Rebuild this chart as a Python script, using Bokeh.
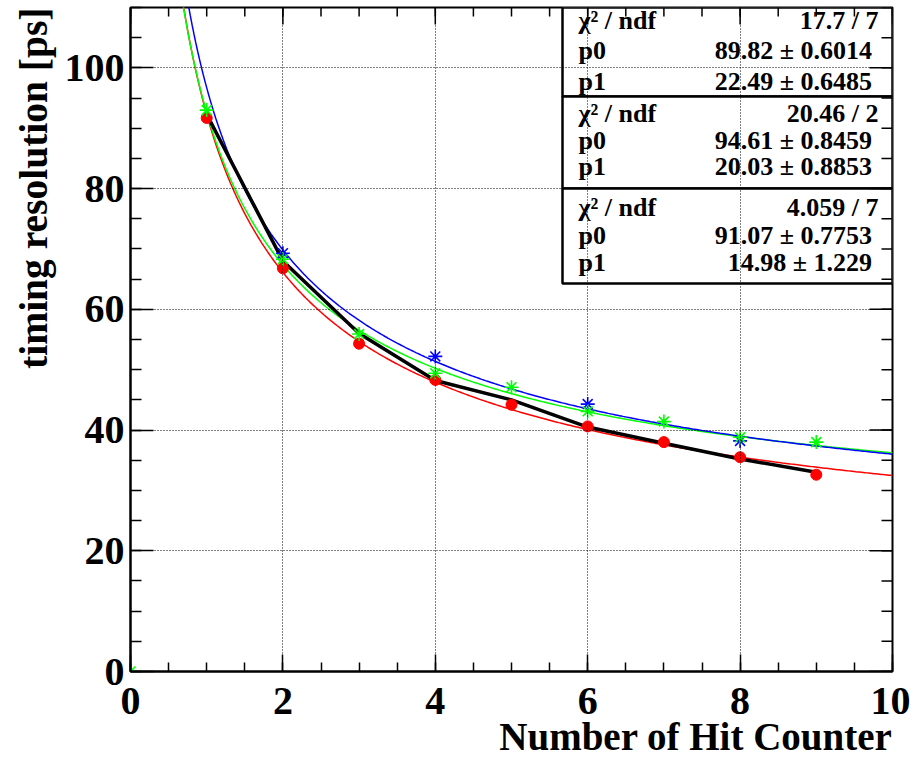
import numpy as np
from bokeh.plotting import figure
from bokeh.models import Range1d, FixedTicker, Title
from bokeh.core.properties import value
from bokeh.embed import file_html
from bokeh.resources import INLINE

# ---------------- data ----------------
hit_counts = [1, 2, 3, 4, 5, 6, 7, 8, 9]
red_res = [91.7, 66.8, 54.3, 48.3, 44.2, 40.6, 38.0, 35.5, 32.6]
mean_res = [92.3, 68.0, 56.0, 48.2, 45.0, 40.5, 37.8, 35.2, 33.0]
green_x = [0, 1, 2, 3, 4, 5, 6, 7, 8, 9]
green_res = [0.0, 93.0, 68.3, 55.9, 49.4, 47.1, 43.1, 41.4, 38.8, 38.0]
blue_x = [2, 4, 6, 8]
blue_res = [69.3, 52.2, 44.3, 38.2]

# fit parameters shown in the stat boxes (f = sqrt(p0^2/x + p1^2))
stat_names = ["\u03c7\u00b2 / ndf", "p0", "p1"]
stats_green = ["17.7 / 7", "89.82  \u00b1 0.6014", "22.49  \u00b1 0.6485"]
stats_blue = ["20.46 / 2", "94.61  \u00b1 0.8459", "20.03  \u00b1 0.8853"]
stats_red = ["4.059 / 7", "91.07  \u00b1 0.7753", "14.98  \u00b1 1.229"]
par_green = [89.82, 22.49]
par_blue = [94.61, 20.03]
par_red = [91.07, 14.98]

x_ticks = [0, 2, 4, 6, 8, 10]
y_ticks = [0, 20, 40, 60, 80, 100]
x_minor = [i * 0.5 for i in range(21)]
y_minor = [i * 5 for i in range(23)]

x_title = "Number of Hit Counter"
y_title = "timing resolution [ps]"

FONT = "Liberation Serif"
X0, X1, Y0, Y1 = 0, 10, 0, 110
FRAME_W, FRAME_H = 762, 664  # frame size in px
PX_X = (X1 - X0) / FRAME_W    # data units per px
PX_Y = (Y1 - Y0) / FRAME_H

p = figure(width=910, height=758, x_range=Range1d(X0, X1), y_range=Range1d(Y0, Y1),
           output_backend="svg", toolbar_location=None,
           min_border_left=130, min_border_right=18, min_border_top=7,
           min_border_bottom=87)
p.background_fill_color = "white"
p.border_fill_color = "white"
p.outline_line_color = "black"
p.outline_line_width = 2

def style_axis(ax, ticks, minor, tin, tmin, standoff):
    ax.ticker = FixedTicker(ticks=ticks, minor_ticks=minor)
    ax.major_tick_in = tin
    ax.major_tick_out = 0
    ax.minor_tick_in = tmin
    ax.minor_tick_out = 0
    ax.axis_line_color = "black"
    ax.axis_line_width = 2
    ax.major_tick_line_color = "black"
    ax.minor_tick_line_color = "black"
    ax.major_tick_line_width = 1.5
    ax.minor_tick_line_width = 1.5
    ax.major_label_text_font = FONT
    ax.major_label_text_font_style = "bold"
    ax.major_label_text_font_size = "40px"
    ax.major_label_text_color = "black"
    ax.major_label_standoff = standoff

style_axis(p.xaxis[0], x_ticks, x_minor, 17, 9, standoff=16)
style_axis(p.yaxis[0], y_ticks, y_minor, 23, 11, standoff=6)

for g, t in ((p.xgrid[0], x_ticks), (p.ygrid[0], y_ticks)):
    g.ticker = FixedTicker(ticks=t)
    g.grid_line_color = "black"
    g.grid_line_dash = "1 2"
    g.grid_line_width = 1
    g.level = "overlay"

# fit curves
xs = np.linspace(0.4, 10, 400)
for par, col in ((par_red, "red"), (par_green, "#00ff00"), (par_blue, "blue")):
    ys = np.sqrt(par[0] ** 2 / xs + par[1] ** 2)
    p.line(xs, ys, line_color=col, line_width=1.5)

# mean line
p.line(hit_counts, mean_res, line_color="black", line_width=3.5)

# markers
p.scatter(hit_counts, red_res, marker="circle", size=11, fill_color="red", line_color="red")
p.scatter(blue_x, blue_res, marker="asterisk", size=14, line_color="blue", line_width=1.6)
p.scatter(green_x, green_res, marker="asterisk", size=14, line_color="#00ff00", line_width=1.6)

# stat boxes (pixel layout converted to data units)
box_left, box_right = X0 + 432 * PX_X, X1
box_px = [0, 89, 181, 276]           # box edges, px below frame top
box_edges = [Y1 - v * PX_Y for v in box_px]
p.quad(left=[box_left] * 3, right=[box_right] * 3, top=box_edges[:3], bottom=box_edges[1:],
       fill_color="white", line_color="black", line_width=2.5)

row_px = [[13, 43, 74], [106, 133, 159], [200, 228, 255]]
for rows, vals in zip(row_px, (stats_green, stats_blue, stats_red)):
    ys_rows = [Y1 - v * PX_Y for v in rows]
    p.text(x=[X0 + 448 * PX_X] * 3, y=ys_rows, text=stat_names, text_font=value(FONT),
           text_font_style="bold", text_font_size="26px", text_align="left",
           text_baseline="middle", text_color="black")
    p.text(x=[X0 + 748 * PX_X] * 3, y=ys_rows, text=vals, text_font=value(FONT),
           text_font_style="bold", text_font_size="26px", text_align="right",
           text_baseline="middle", text_color="black")

# mirrored ticks on the top and right frame edges
p.segment(x0=x_ticks, x1=x_ticks, y0=[Y1] * len(x_ticks), y1=[Y1 - 17 * PX_Y] * len(x_ticks),
          line_color="black", line_width=1.5)
p.segment(x0=x_minor, x1=x_minor, y0=[Y1] * len(x_minor), y1=[Y1 - 9 * PX_Y] * len(x_minor),
          line_color="black", line_width=1.5)
p.segment(x0=[X1] * len(y_ticks), x1=[X1 - 23 * PX_X] * len(y_ticks), y0=y_ticks, y1=y_ticks,
          line_color="black", line_width=1.5)
p.segment(x0=[X1] * len(y_minor), x1=[X1 - 11 * PX_X] * len(y_minor), y0=y_minor, y1=y_minor,
          line_color="black", line_width=1.5)

# axis titles
p.add_layout(Title(text=x_title, align="right", text_font=FONT, text_font_style="bold",
                   text_font_size="39px", text_color="black", standoff=-7), "below")
p.add_layout(Title(text=y_title, align="right", text_font=FONT, text_font_style="bold",
                   text_font_size="39.5px", text_color="black", standoff=12), "left")

open("out.html", "w").write(file_html(p, INLINE))
